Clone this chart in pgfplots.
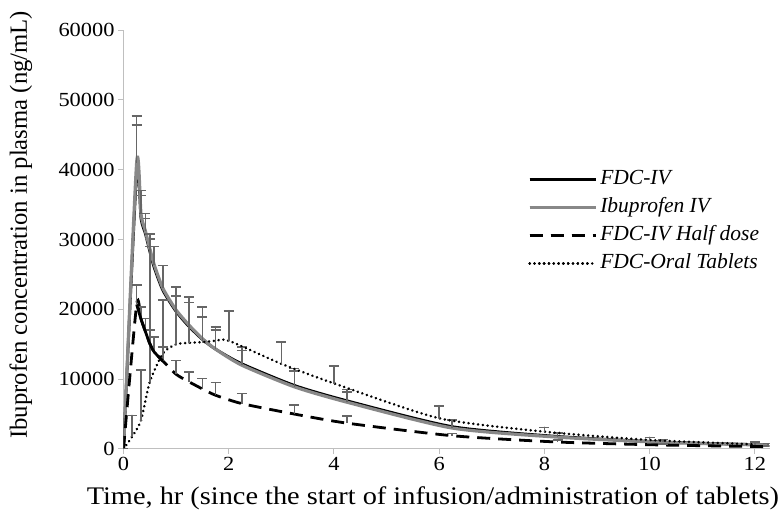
\documentclass[border=0pt]{standalone}
\usepackage{pgfplots}
\pgfplotsset{compat=1.18}
\usepackage{pgfplotstable}
\usepackage{fontspec}
\setmainfont{Liberation Serif}
\definecolor{axgray}{HTML}{BFBFBF}
\definecolor{ivgray}{HTML}{888888}
\definecolor{ebgray}{HTML}{666666}

\pgfplotstableread{
t y e
0 0 0
0.25 39500 6900
0.333 33000 3300
0.417 30800 2200
0.5 28300 1800
0.583 26000 3000
0.75 22700 3600
1.0 19700 2200
1.25 17500 3500
1.5 15700 3200
1.75 14300 2700
2.25 12200 1900
3.25 9100 2100
4.25 6900 1300
6.25 3200 940
8.25 1800 530
10.25 1000 380
12.25 580 230
}\fdciv

\pgfplotstableread{
t y e
0 0 0
0.25 41000 6700
0.333 33600 3400
0.417 31200 2500
0.5 28700 2100
0.583 26400 2600
0.75 23000 3300
1.0 19900 2000
1.25 17700 3300
1.5 15800 3100
1.75 14300 2700
2.25 12000 2600
3.25 8900 2600
4.25 6700 1800
6.25 3000 1140
8.25 1700 630
10.25 950 430
12.25 550 260
}\ibuiv

\pgfplotstableread{
t y e
0 0 0
0.25 20700 2800
0.333 18600 1700
0.417 16800 1900
0.5 15100 1900
0.583 13900 2100
0.75 12600 2000
1.0 10700 2000
1.25 9600 1400
1.5 8600 1500
1.75 7700 1800
2.25 6500 1450
3.25 5000 1300
4.25 3700 1000
6.25 1900 340
8.25 1000 250
10.25 570 150
12.25 330 120
}\half

\pgfplotstableread{
t y
0.25 20700
0.333 18600
0.417 16800
0.5 15100
0.583 13900
0.75 12600
}\halfearly

\pgfplotstableread{
t y e
0 0 0
0.167 1800 3000
0.333 4100 7200
0.5 9600 19400
0.75 13700 7600
1.0 15000 8200
1.25 15200 6600
1.5 15300 5000
1.75 15500 2000
2.0 15500 4300
3.0 12200 3100
4.0 9400 2500
6.0 4400 1800
8.0 2480 620
10.0 1290 380
12.0 670 290
}\oral

\pgfplotsset{eb/.style={error bars/.cd, y dir=plus, y explicit,
    error bar style={solid, line width=1.6pt, ebgray},
    error mark options={solid, rotate=90, mark size=5pt, line width=1.6pt, ebgray}}}

\begin{document}
\begin{tikzpicture}
\path[use as bounding box] (-123.5pt,-80pt) rectangle (655.5pt,449pt);
\begin{axis}[
  scale only axis, width=646pt, height=419pt,
  xmin=0, xmax=12.28, ymin=0, ymax=60000,
  axis lines=left,
  axis line style={-, draw=axgray, line width=1pt},
  xtick={0,2,...,12}, ytick={0,10000,...,60000},
  tick align=outside, major tick length=5pt,
  tick style={axgray, line width=1pt},
  scaled y ticks=false,
  yticklabel style={/pgf/number format/fixed, /pgf/number format/1000 sep={}},
  /pgf/number format/assume math mode=true,
  ticklabel style={font=\fontsize{20}{24}\selectfont, xscale=1.12},
  xlabel={Time, hr (since the start of infusion/administration of tablets)},
  ylabel={Ibuprofen concentration in plasma (ng/mL)},
  xlabel style={font=\fontsize{25.3}{29}\selectfont, xscale=1.12, at={(axis description cs:0.479,-0.117)}, anchor=center},
  ylabel style={font=\fontsize{24.7}{29}\selectfont, at={(axis description cs:-0.159,0.535)}, anchor=center},
  legend style={at={(axis description cs:0.626,0.675)}, anchor=north west,
    draw=none, fill=none, font=\fontsize{21.5}{24}\selectfont\itshape,
    row sep=2pt, inner sep=0pt,
    nodes={inner sep=3pt, text height=15pt, text depth=5pt}},
  legend cell align=left,
  legend image code/.code={\path (0pt,0pt) -- (66pt,0pt);\draw[#1] (0pt,0pt) -- (60pt,0pt);},
]
\addplot[black, line width=2.8pt, smooth, tension=0.4, mark=none, eb] table[x=t, y=y, y error=e] {\fdciv};
\addlegendentry{FDC-IV}
\addplot[ivgray, line width=3.2pt, smooth, tension=0.4, mark=none, eb] table[x=t, y=y, y error=e] {\ibuiv};
\addlegendentry{Ibuprofen IV}
\addplot[black, line width=2.8pt, dash pattern=on 13pt off 8pt, smooth, tension=0.4, mark=none, eb] table[x=t, y=y, y error=e] {\half};
\addlegendentry{FDC-IV Half dose}
\addplot[black, line width=2.8pt, line cap=round, dash pattern=on 0.01pt off 4.8pt, smooth, tension=0.4, mark=none, eb] table[x=t, y=y, y error=e] {\oral};
\addlegendentry{FDC-Oral Tablets}
\addplot[black, line width=2.8pt, smooth, tension=0.4, mark=none, forget plot] table[x=t, y=y] {\halfearly};
\end{axis}
\end{tikzpicture}
\end{document}
